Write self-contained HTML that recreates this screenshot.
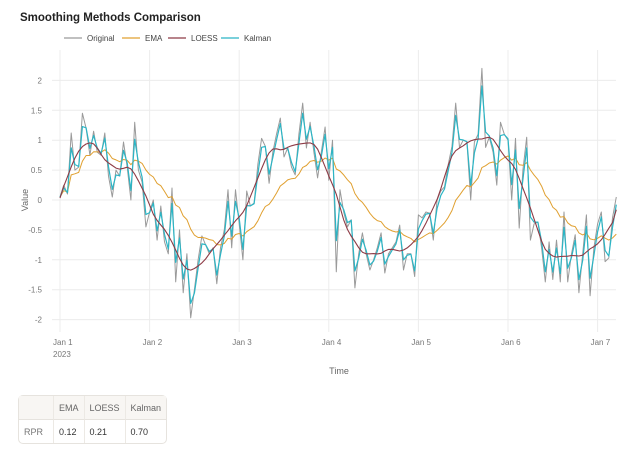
<!DOCTYPE html>
<html><head><meta charset="utf-8"><style>
body{margin:0;width:640px;height:454px;background:#fff;font-family:"Liberation Sans",sans-serif;overflow:hidden;position:relative}
svg{position:absolute;left:0;top:0}
table{position:absolute;left:18px;top:395px;border-collapse:separate;border-spacing:0;border:1px solid #e6e3de;border-radius:5px;font-size:9px;color:#333}
td{border-right:1px solid #ece9e4;padding:0 5px;height:23px}
tr:first-child td{background:#f8f6f3;color:#666;border-bottom:1px solid #e6e3de}
td:last-child{border-right:none}
</style></head><body>
<svg width="640" height="454">
<text x="20" y="21" font-size="11.5" font-weight="bold" fill="#222">Smoothing Methods Comparison</text>
<g id="legend"></g>
<g id="grid"></g>
<g id="series"></g>
<text x="28" y="200" font-size="9" fill="#666" text-anchor="middle" transform="rotate(-90 28 200)">Value</text>
<text x="339" y="374" font-size="9" fill="#666" text-anchor="middle">Time</text>
<text x="53" y="357" font-size="8" fill="#777">2023</text>
</svg>
<table>
<tr><td style="width:24px"></td><td>EMA</td><td>LOESS</td><td>Kalman</td></tr>
<tr><td style="color:#777">RPR</td><td>0.12</td><td>0.21</td><td>0.70</td></tr>
</table>
<script>
const original=[0.05,0.25,0.1,1.12,0.5,0.55,1.45,1.2,0.75,1.15,0.8,0.75,1.12,0.4,0.05,0.5,0.4,0.97,0.55,0.0,1.3,0.5,0.3,-0.45,
-0.2,0.0,-0.67,-0.1,-0.7,-0.9,0.2,-1.37,-0.5,-1.55,-0.9,-1.97,-1.5,-1.0,-0.6,-0.75,-0.9,-0.8,-1.4,-0.8,-0.5,0.17,-0.8,0.17,
-0.4,-1.0,0.15,-0.1,-0.05,0.6,1.03,0.9,0.28,0.8,1.1,1.37,0.72,0.87,0.55,0.42,1.1,1.62,0.87,1.3,0.8,0.37,0.8,1.22,
0.33,1.0,-1.2,0.17,-0.2,-0.45,-0.33,-1.47,-0.9,-0.55,-0.9,-1.17,-1.0,-0.8,-0.55,-1.22,-0.9,-0.8,-0.7,-0.42,-1.17,-0.9,-0.9,-1.28,
-0.25,-0.3,-0.2,-0.22,-0.67,0.0,0.15,0.22,0.6,0.9,1.62,0.88,1.0,0.97,0.0,0.97,1.1,2.2,0.88,1.05,0.8,0.25,1.3,1.1,
1.0,0.0,1.03,-0.47,0.5,1.05,-0.67,-0.4,-0.37,-0.8,-1.37,-0.7,-1.33,-0.67,-1.37,-0.2,-1.37,-0.9,-0.58,-1.55,-0.9,-0.25,-1.6,-0.8,
-0.4,-0.2,-1.03,-0.97,-0.3,0.05];
const yTicks=[2,1.5,1,0.5,0,-0.5,-1,-1.5,-2];
const yTickLabels=["2","1.5","1","0.5","0","-0.5","-1","-1.5","-2"];
const xTickDays=[0,1,2,3,4,5,6];
const xTickLabels=["Jan 1","Jan 2","Jan 3","Jan 4","Jan 5","Jan 6","Jan 7"];
const NS='http://www.w3.org/2000/svg';
const xs=h=>60+h*(89.6/24), ys=v=>200-v*59.8;
function mk(t,a,p){const e=document.createElementNS(NS,t);for(const k in a)e.setAttribute(k,a[k]);p.appendChild(e);return e;}
const ema=[];{const a=0.095;let num=0,den=0;original.forEach(v=>{num=num*(1-a)+v;den=den*(1-a)+1;ema.push(num/den);});}
const loess=original.map((_,i)=>{let sw=0,sx=0,sy=0,sxx=0,sxy=0;for(let j=-5;j<=5;j++){const k=i+j;if(k<0||k>=original.length)continue;const d=Math.abs(j)/6;const w=Math.pow(1-d*d*d,3);sw+=w;sx+=w*j;sy+=w*original[k];sxx+=w*j*j;sxy+=w*j*original[k];}
const den=sw*sxx-sx*sx;if(Math.abs(den)<1e-9)return sy/sw;const b=(sw*sxy-sx*sy)/den;return (sy-b*sx)/sw;});
const kalman=[];{let x=original[0];original.forEach(v=>{x=x+0.75*(v-x);kalman.push(x);});}
const grid=document.getElementById('grid');
yTicks.forEach((v,i)=>{const l=mk('line',{x1:52,x2:616,y1:ys(v),y2:ys(v),stroke:'#ececec','stroke-width':1},grid);
const t=mk('text',{x:42,y:ys(v)+3,'font-size':8,fill:'#777','text-anchor':'end'},grid);t.textContent=yTickLabels[i];});
xTickDays.forEach((d,i)=>{const x=xs(d*24);const l=mk('line',{x1:x,x2:x,y1:50,y2:332,stroke:'#ececec','stroke-width':1},grid);
const t=mk('text',{x:x-7,y:345,'font-size':8,fill:'#777'},grid);t.textContent=xTickLabels[i];});
const series=document.getElementById('series');
const defs=[['Original',original,'#9a9a9a',1],['EMA',ema,'#e0a030',1],['LOESS',loess,'#8e3b46',1.1],['Kalman',kalman,'#2bb5c5',1.2]];
function path(arr){return arr.map((v,i)=>(i?'L':'M')+xs(i).toFixed(1)+','+ys(v).toFixed(1)).join('');}
[0,1,3,2].forEach(k=>{const [n,a,c,w]=defs[k];const p=mk('path',{d:path(a),fill:'none',stroke:c,'stroke-width':w,'stroke-linejoin':'round'},series);});
const lg=document.getElementById('legend');const lx=[64,122,168,221];
defs.forEach((d,i)=>{const l=mk('line',{x1:lx[i],x2:lx[i]+18,y1:38,y2:38,stroke:d[2],'stroke-width':1.3},lg);
const t=mk('text',{x:lx[i]+23,y:41,'font-size':8,fill:'#444'},lg);t.textContent=d[0];});
</script>
</body></html>
